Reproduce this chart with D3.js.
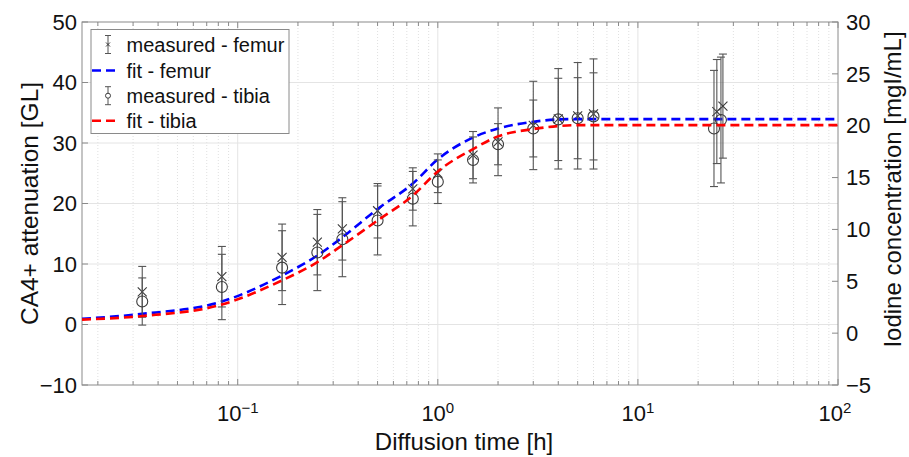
<!DOCTYPE html>
<html>
<head>
<meta charset="utf-8">
<script src="https://cdn.jsdelivr.net/npm/d3@7"></script>
<style>
  html, body { margin: 0; padding: 0; background: #fff; }
  svg { display: block; font-family: "Liberation Sans", Arial, sans-serif; }
</style>
</head>
<body>
<svg id="chart" width="909" height="457"></svg>
<script>
// ---------------- data ----------------
const times = [1/30, 1/12, 1/6, 0.25, 1/3, 0.5, 0.75, 1, 1.5, 2, 3, 4, 5, 6];
const femurTimes = times.concat([24.8, 26.6]);
const tibiaTimes = times.concat([24.0, 26.0]);
const femurMean = [5.4, 7.9, 11.1, 13.6, 15.8, 18.8, 22.4, 25.0, 28.0, 30.2, 32.9, 34.0, 34.5, 34.8, 35.2, 36.1];
const femurErr  = [4.2, 5.0, 5.5, 5.4, 5.15, 4.5, 3.5, 3.2, 3.9, 5.6, 7.3, 8.3, 8.8, 9.1, 8.6, 8.6];
const tibiaMean = [3.8, 6.2, 9.4, 11.9, 14.1, 17.2, 20.8, 23.6, 27.2, 29.8, 32.4, 33.9, 34.1, 34.4, 32.4, 33.8];
const tibiaErr  = [3.9, 5.4, 6.1, 6.3, 6.2, 5.7, 4.5, 3.6, 3.8, 3.4, 4.7, 6.8, 6.7, 7.2, 9.6, 10.4];

// fitted curves
const fitTimes    = [1/60, 1/30, 1/12, 1/6, 0.25, 1/3, 0.5, 0.75, 1, 1.5, 2, 3, 4, 5, 100];
const fitFemur    = [0.95, 1.75, 3.8, 8.1, 11.4, 14.4, 19.1, 23.3, 27.3, 30.9, 32.4, 33.5, 33.9, 33.95, 33.95];
const fitTibia    = [0.8, 1.4, 3.3, 7.3, 10.3, 13.1, 17.2, 21.3, 25.3, 29.0, 31.1, 32.3, 32.8, 32.95, 32.95];

const leftTicks  = [-10, 0, 10, 20, 30, 40, 50];
const rightTicks = [-5, 0, 5, 10, 15, 20, 25, 30];
const xMajorExp  = [-1, 0, 1, 2];
const legendLabels = ["measured - femur", "fit - femur", "measured - tibia", "fit - tibia"];

// ---------------- layout ----------------
const L = 82, R = 838, T = 22, B = 385;
const svg = d3.select("#chart");
const x = d3.scaleLog().domain([1/60, 100]).range([L, R]);
const y = d3.scaleLinear().domain([-10, 50]).range([B, T]);
const yR = d3.scaleLinear().domain([-5, 30]).range([B, T]);

const axisCol = "#8a8a8a";
const markCol = "#3a3a3a";
const barCol = "#555";

// minor/major x ticks
const minorX = [];
for (let e = -2; e <= 1; e++) {
  for (let m = 2; m <= 9; m++) {
    const v = m * Math.pow(10, e);
    if (v > x.domain()[0] && v < x.domain()[1]) minorX.push(v);
  }
}
const majorX = xMajorExp.map(e => Math.pow(10, e));

// ---------------- grid ----------------
const grid = svg.append("g");
grid.selectAll(".mgx").data(minorX).join("line")
  .attr("x1", d => x(d)).attr("x2", d => x(d)).attr("y1", T).attr("y2", B)
  .attr("stroke", "#d8d8d8").attr("stroke-width", 0.8).attr("stroke-dasharray", "1,2");
grid.selectAll(".Mgx").data(majorX.filter(v => v < 100)).join("line")
  .attr("x1", d => x(d)).attr("x2", d => x(d)).attr("y1", T).attr("y2", B)
  .attr("stroke", "#e4e4e4").attr("stroke-width", 1);
grid.selectAll(".gy").data(leftTicks.filter(v => v > -10 && v < 50)).join("line")
  .attr("x1", L).attr("x2", R).attr("y1", d => y(d)).attr("y2", d => y(d))
  .attr("stroke", "#e4e4e4").attr("stroke-width", 1);

// ---------------- axes box & ticks ----------------
const ax = svg.append("g");
ax.append("rect").attr("x", L).attr("y", T).attr("width", R - L).attr("height", B - T)
  .attr("fill", "none").attr("stroke", axisCol).attr("stroke-width", 1);

const tk = 6, tkm = 4;
ax.selectAll(".xtb").data(majorX).join("line")
  .attr("x1", d => x(d)).attr("x2", d => x(d)).attr("y1", B).attr("y2", B - tk)
  .attr("stroke", axisCol);
ax.selectAll(".xtt").data(majorX).join("line")
  .attr("x1", d => x(d)).attr("x2", d => x(d)).attr("y1", T).attr("y2", T + tk)
  .attr("stroke", axisCol);
ax.selectAll(".xmb").data(minorX).join("line")
  .attr("x1", d => x(d)).attr("x2", d => x(d)).attr("y1", B).attr("y2", B - tkm)
  .attr("stroke", axisCol);
ax.selectAll(".xmt").data(minorX).join("line")
  .attr("x1", d => x(d)).attr("x2", d => x(d)).attr("y1", T).attr("y2", T + tkm)
  .attr("stroke", axisCol);
ax.selectAll(".yl").data(leftTicks).join("line")
  .attr("x1", L).attr("x2", L + tk).attr("y1", d => y(d)).attr("y2", d => y(d))
  .attr("stroke", axisCol);
ax.selectAll(".yr").data(rightTicks).join("line")
  .attr("x1", R).attr("x2", R - tk).attr("y1", d => yR(d)).attr("y2", d => yR(d))
  .attr("stroke", axisCol);

const fmt = v => (v < 0 ? "\u2212" + Math.abs(v) : String(v));
ax.selectAll(".yll").data(leftTicks).join("text")
  .attr("x", L - 5).attr("y", d => y(d)).attr("dy", "0.35em")
  .attr("text-anchor", "end").attr("font-size", 22).attr("fill", "#111")
  .text(fmt);
ax.selectAll(".yrl").data(rightTicks).join("text")
  .attr("x", R + 8).attr("y", d => yR(d)).attr("dy", "0.35em")
  .attr("text-anchor", "start").attr("font-size", 22).attr("fill", "#111")
  .text(fmt);

const xl = ax.selectAll(".xll").data(xMajorExp).join("text")
  .attr("x", d => x(Math.pow(10, d)) - (d === 2 ? 3 : 0)).attr("y", 421)
  .attr("text-anchor", "middle").attr("font-size", 22).attr("fill", "#111");
xl.append("tspan").text("10");
xl.append("tspan").attr("dy", -8).attr("font-size", 15)
  .text(d => (d < 0 ? "\u2212" + Math.abs(d) : String(d)));

// axis labels
svg.append("text").attr("x", (L + R) / 2 + 4).attr("y", 450)
  .attr("text-anchor", "middle").attr("font-size", 24).attr("fill", "#111")
  .text("Diffusion time [h]");
svg.append("text").attr("transform", `translate(38,${(T + B) / 2}) rotate(-90)`)
  .attr("text-anchor", "middle").attr("font-size", 24.5).attr("fill", "#111")
  .text("CA4+ attenuation [GL]");
svg.append("text").attr("transform", `translate(901,${(T + B) / 2 - 14}) rotate(-90)`)
  .attr("text-anchor", "middle").attr("font-size", 24).attr("fill", "#111")
  .text("Iodine concentration [mgI/mL]");

// ---------------- marks ----------------
const plot = svg.append("g");
const line = d3.line().x(d => x(d[0])).y(d => y(d[1])).curve(d3.curveMonotoneX);
const cap = 4;

function errorbars(ts, means, errs, kind) {
  const g = plot.append("g");
  const data = ts.map((t, i) => ({ t, m: means[i], e: errs[i] }));
  g.selectAll("line.v").data(data).join("line")
    .attr("x1", d => x(d.t)).attr("x2", d => x(d.t))
    .attr("y1", d => y(d.m - d.e)).attr("y2", d => y(d.m + d.e))
    .attr("stroke", barCol).attr("stroke-width", 1.1);
  ["lo", "hi"].forEach(k => {
    g.selectAll("line.c" + k).data(data).join("line")
      .attr("x1", d => x(d.t) - cap).attr("x2", d => x(d.t) + cap)
      .attr("y1", d => y(k === "lo" ? d.m - d.e : d.m + d.e))
      .attr("y2", d => y(k === "lo" ? d.m - d.e : d.m + d.e))
      .attr("stroke", barCol).attr("stroke-width", 1.1);
  });
  if (kind === "x") {
    const s = 4.5;
    g.selectAll("path.m").data(data).join("path")
      .attr("d", d => {
        const cx = x(d.t), cy = y(d.m);
        return `M${cx - s},${cy - s}L${cx + s},${cy + s}M${cx - s},${cy + s}L${cx + s},${cy - s}`;
      })
      .attr("stroke", markCol).attr("stroke-width", 1.1).attr("fill", "none");
  } else {
    g.selectAll("circle.m").data(data).join("circle")
      .attr("cx", d => x(d.t)).attr("cy", d => y(d.m)).attr("r", 5.5)
      .attr("stroke", markCol).attr("stroke-width", 1.1).attr("fill", "none");
  }
}
function fit(vals, color) {
  plot.append("path").datum(fitTimes.map((t, i) => [t, vals[i]]))
    .attr("d", line).attr("fill", "none").attr("stroke", color)
    .attr("stroke-width", 2.6).attr("stroke-dasharray", "9,5");
}
errorbars(femurTimes, femurMean, femurErr, "x");
fit(fitFemur, "#0000ff");
errorbars(tibiaTimes, tibiaMean, tibiaErr, "o");
fit(fitTibia, "#ff0000");

// ---------------- legend ----------------
const lg = svg.append("g");
lg.append("rect").attr("x", 91).attr("y", 29.5).attr("width", 198).attr("height", 104)
  .attr("fill", "#fff").attr("stroke", axisCol).attr("stroke-width", 1);
const rowY = [44.5, 70.5, 95.7, 120.7];
legendLabels.forEach((lab, i) => {
  const cy = rowY[i];
  if (i === 0 || i === 2) {
    const cx = 108;
    lg.append("line").attr("x1", cx).attr("x2", cx).attr("y1", cy - 9).attr("y2", cy + 9)
      .attr("stroke", barCol);
    [cy - 9, cy + 9].forEach(yy => lg.append("line")
      .attr("x1", cx - 3).attr("x2", cx + 3).attr("y1", yy).attr("y2", yy).attr("stroke", barCol));
    if (i === 0) {
      const s = 2;
      lg.append("path").attr("d", `M${cx - s},${cy - s}L${cx + s},${cy + s}M${cx - s},${cy + s}L${cx + s},${cy - s}`)
        .attr("stroke", markCol).attr("fill", "none");
    } else {
      lg.append("circle").attr("cx", cx).attr("cy", cy).attr("r", 2.5)
        .attr("stroke", markCol).attr("fill", "#fff");
    }
  } else {
    lg.append("line").attr("x1", 92).attr("x2", 119).attr("y1", cy).attr("y2", cy)
      .attr("stroke", i === 1 ? "#0000ff" : "#ff0000").attr("stroke-width", 2.6)
      .attr("stroke-dasharray", "9,5");
  }
  lg.append("text").attr("x", 126.5).attr("y", cy).attr("dy", "0.35em")
    .attr("font-size", 20).attr("fill", "#111").text(lab);
});
</script>
</body>
</html>
